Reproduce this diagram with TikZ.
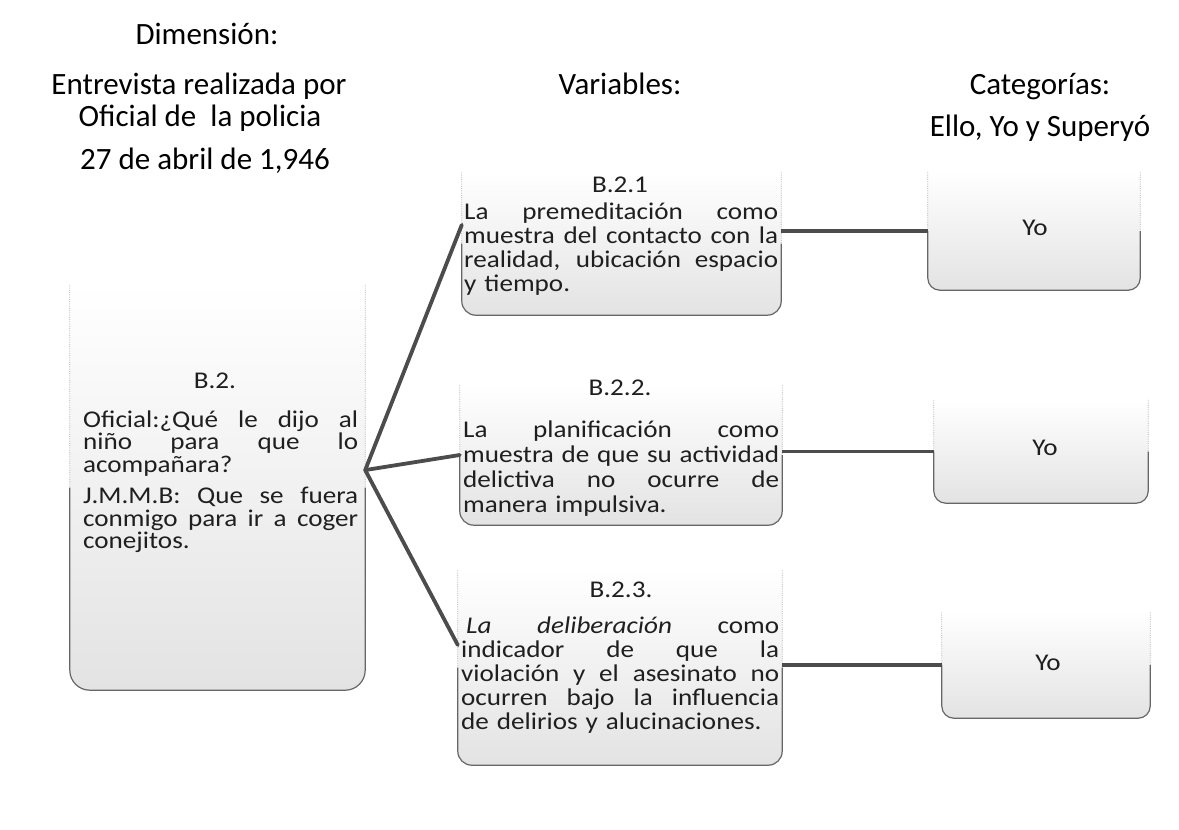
\documentclass[tikz,border=0pt]{standalone}
\usepackage{fontspec}
\setmainfont{Carlito}
\newfontfamily\bodyfont[FakeStretch=1.13]{Carlito}
\usetikzlibrary{calc}
\tikzset{
  head/.style={font=\fontsize{31}{36}\selectfont, inner sep=0pt, anchor=base},
  body/.style={font=\bodyfont\fontsize{24}{24}\selectfont, text=black!88},
  para/.style={body, inner sep=0pt, anchor=base west, align=left},
  tag/.style={body, inner sep=0pt, anchor=base},
  box/.style={rectangle, inner sep=0pt, draw=none, body},
  conn/.style={line width=3.8pt, draw=black!70},
}
\newlength{\twd}
\newcommand{\jl}[1]{\leavevmode\hbox to \twd{\spaceskip=0.3em plus 3em minus 0.1em\relax #1}}
\newcommand{\openbox}[2]{%
  \shade[top color=white, middle color=white, bottom color=black!11, rounded corners=#2]
    (#1.north west) -- (#1.south west) -- (#1.south east) -- (#1.north east) -- cycle;
  \draw[black!30, line width=0.8pt, densely dotted]
    (#1.north west) -- ($(#1.north west)!0.5!(#1.south west)$);
  \draw[black!30, line width=0.8pt, densely dotted]
    (#1.north east) -- ($(#1.north east)!0.5!(#1.south east)$);
  \draw[black!60, line width=1.2pt, rounded corners=#2]
    ($(#1.north west)!0.5!(#1.south west)$) -- (#1.south west) -- (#1.south east)
    -- ($(#1.north east)!0.5!(#1.south east)$);
}
\begin{document}
\begin{tikzpicture}[x=1pt,y=-1pt]
\useasboundingbox[fill=white] (0,0) rectangle (1179,830);

% headers
\node[head] (h1) at (207,44) {Dimensión:};
\node[head] (h2) at (199,94) {Entrevista realizada por};
\node[head] (h3) at (200,126) {Oficial de\ \ la policia};
\node[head] (h4) at (205,169) {27 de abril de 1,946};
\node[head] (h5) at (620,94) {Variables:};
\node[head] (h6) at (1040,94) {Categorías:};
\node[head] (h7) at (1040,136) {Ello, Yo y Superyó};

% boxes
\node[box, minimum width=295pt, minimum height=405pt] (b2) at (217.5,487.5) {};
\node[box, minimum width=319pt, minimum height=143pt] (v1) at (621.5,243.5) {};
\node[box, minimum width=322pt, minimum height=140pt] (v2) at (621,455) {};
\node[box, minimum width=324pt, minimum height=195pt] (v3) at (620,667.5) {};
\node[box, minimum width=212pt, minimum height=118pt] (y1) at (1034,231) {};
\node[box, minimum width=214pt, minimum height=103pt] (y2) at (1041,451.5) {};
\node[box, minimum width=208pt, minimum height=106pt] (y3) at (1046,665) {};

\openbox{b2}{20pt}
\openbox{v1}{14pt}
\openbox{v2}{14pt}
\openbox{v3}{14pt}
\openbox{y1}{12pt}
\openbox{y2}{12pt}
\openbox{y3}{12pt}

% texts
\node[tag] (t0) at (215,388) {B.2.};
\node[para, text width=275pt, font=\bodyfont\fontsize{24}{22.5}\selectfont] (p0) at (83,427) {%
\setlength{\twd}{275pt}%
\jl{Oficial:¿Qué le dijo al}\\
\jl{niño para que lo}\\
acompañara?\\[9pt]
\jl{J.M.M.B: Que se fuera}\\
\jl{conmigo para ir a coger}\\
conejitos.};

\node[tag] (t1) at (620,192) {B.2.1};
\node[para, text width=314pt] (p1) at (464,219) {%
\setlength{\twd}{314pt}%
\jl{La premeditación como}\\
\jl{muestra del contacto con la}\\
\jl{realidad, ubicación espacio}\\
y tiempo.};

\node[tag] (t2) at (620,395) {B.2.2.};
\node[para, text width=316pt, font=\bodyfont\fontsize{24}{25}\selectfont] (p2) at (463,437) {%
\setlength{\twd}{316pt}%
\jl{La planificación como}\\
\jl{muestra de que su actividad}\\
\jl{delictiva no ocurre de}\\
manera impulsiva.};

\node[tag] (t3) at (621,597) {B.2.3.};
\node[para, text width=318pt] (p3) at (461,633) {%
\setlength{\twd}{318pt}%
\jl{\kern5pt\textit{La} \textit{deliberación} como}\\
\jl{indicador de que la}\\
\jl{violación y el asesinato no}\\
\jl{ocurren bajo la influencia}\\
de delirios y alucinaciones.};

\node[tag] (yo1) at (1035,235) {Yo};
\node[tag] (yo2) at (1045,455) {Yo};
\node[tag] (yo3) at (1048,670) {Yo};

% connectors
\coordinate (hub) at ($(b2.north east)!0.457!(b2.south east)$);
\draw[conn, line cap=round] (hub) -- ($(v1.north west)!0.37!(v1.south west)$);
\draw[conn, line cap=round] (hub) -- (v2.west);
\draw[conn, line cap=round] (hub) -- ($(v3.north west)!0.385!(v3.south west)$);
\draw[conn] (v1.east |- y1.west) -- (y1.west);
\draw[conn] (v2.east |- y2.west) -- (y2.west);
\draw[conn] (v3.east |- y3.west) -- (y3.west);
\end{tikzpicture}
\end{document}
